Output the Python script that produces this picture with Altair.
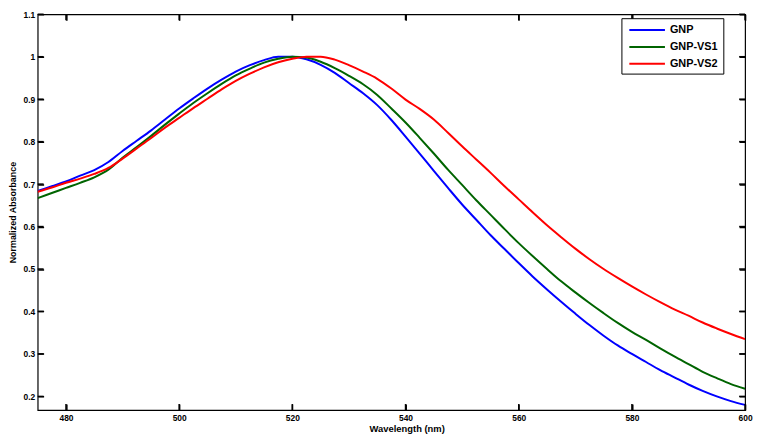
import altair as alt
import pandas as pd

wavelength = [475, 477.5, 480, 482.5, 485, 487.5, 490, 492.5, 495, 497.5, 500, 502.5, 505, 507.5,
              510, 512.5, 515, 517.5, 520, 522.5, 525, 527.5, 530, 532.5, 535, 537.5, 540, 542.5,
              545, 547.5, 550, 552.5, 555, 557.5, 560, 562.5, 565, 567.5, 570, 572.5, 575, 577.5,
              580, 582.5, 585, 587.5, 590, 592.5, 595, 597.5, 600]

gnp = [0.684, 0.695, 0.706, 0.720, 0.733, 0.752, 0.778, 0.802, 0.826, 0.852, 0.878, 0.902, 0.925, 0.946,
       0.965, 0.980, 0.992, 1.000, 1.000, 0.994, 0.981, 0.962, 0.938, 0.914, 0.886, 0.851, 0.812, 0.772,
       0.731, 0.691, 0.652, 0.616, 0.580, 0.547, 0.514, 0.482, 0.452, 0.423, 0.395, 0.368, 0.343, 0.320,
       0.300, 0.281, 0.262, 0.245, 0.228, 0.213, 0.200, 0.189, 0.180]

gnp_vs1 = [0.667, 0.679, 0.691, 0.703, 0.716, 0.734, 0.762, 0.787, 0.813, 0.840, 0.866, 0.891, 0.914, 0.936,
           0.956, 0.972, 0.986, 0.995, 1.000, 0.998, 0.988, 0.973, 0.955, 0.935, 0.910, 0.878, 0.845, 0.809,
           0.772, 0.734, 0.698, 0.662, 0.628, 0.594, 0.561, 0.530, 0.500, 0.471, 0.445, 0.420, 0.396, 0.373,
           0.352, 0.333, 0.313, 0.294, 0.276, 0.258, 0.243, 0.229, 0.218]

gnp_vs2 = [0.682, 0.692, 0.703, 0.713, 0.724, 0.738, 0.760, 0.784, 0.808, 0.833, 0.856, 0.879, 0.901, 0.923,
           0.943, 0.960, 0.975, 0.987, 0.995, 1.000, 1.000, 0.993, 0.980, 0.965, 0.948, 0.925, 0.899, 0.877,
           0.852, 0.821, 0.789, 0.758, 0.727, 0.695, 0.664, 0.633, 0.603, 0.575, 0.548, 0.523, 0.500, 0.479,
           0.459, 0.440, 0.422, 0.405, 0.390, 0.374, 0.360, 0.347, 0.335]

series_names = ["GNP", "GNP-VS1", "GNP-VS2"]
series_colors = ["#0000ff", "#006400", "#ff0000"]
x_ticks = [480, 500, 520, 540, 560, 580, 600]
y_ticks = [0.2, 0.3, 0.4, 0.5, 0.6, 0.7, 0.8, 0.9, 1.0, 1.1]

FONT = "Liberation Sans"
W, H = 715, 400
X_DOM = [475, 600]
Y_DOM = [0.168, 1.1]
TICK = 6

rows = []
for name, vals in zip(series_names, [gnp, gnp_vs1, gnp_vs2]):
    for w, v in zip(wavelength, vals):
        rows.append({"wavelength": w, "absorbance": v, "series": name})
df = pd.DataFrame(rows)

xs = alt.Scale(domain=X_DOM, nice=False, zero=False)
ys = alt.Scale(domain=Y_DOM, nice=False, zero=False)

# inward ticks at both ends of each axis, drawn as dashed grid lines (dash, long gap, dash)
x_grid = dict(grid=True, gridColor="black", gridOpacity=1, gridWidth=1.5,
              gridDash=[TICK, H - 2 * TICK, TICK, 3000])
y_grid = dict(grid=True, gridColor="black", gridOpacity=1, gridWidth=1.5,
              gridDash=[TICK, W - 2 * TICK, TICK, 3000])

lines = alt.Chart(df).mark_line(strokeWidth=2, clip=True, interpolate="monotone").encode(
    x=alt.X("wavelength:Q", scale=xs,
            axis=alt.Axis(values=x_ticks, format="d", ticks=False, domain=False, **x_grid,
                          labelFont=FONT, labelFontSize=8.5, labelFontWeight="bold", labelColor="black",
                          labelPadding=4, labelFlush=False,
                          title="Wavelength (nm)", titleFont=FONT, titleFontSize=9.5,
                          titleFontWeight="bold", titleColor="black",
                          titleX=373, titleY=19, titleBaseline="middle", titleAlign="center")),
    y=alt.Y("absorbance:Q", scale=ys,
            axis=alt.Axis(values=y_ticks, format="~g", ticks=False, domain=False, **y_grid,
                          labelFont=FONT, labelFontSize=8.5, labelFontWeight="bold", labelColor="black",
                          labelPadding=3, labelFlush=False,
                          title="Normalized Absorbance", titleFont=FONT, titleFontSize=9,
                          titleFontWeight="bold", titleColor="black",
                          titleX=-25, titleY=H / 2, titleAngle=-90, titleBaseline="middle",
                          titleAlign="center")),
    color=alt.Color("series:N",
                    scale=alt.Scale(domain=series_names, range=series_colors),
                    legend=alt.Legend(title=None, orient="none", legendX=590, legendY=4,
                                      symbolType="M-0.667,0H5.333", symbolSize=144, symbolStrokeWidth=2,
                                      labelFont=FONT, labelFontSize=11, labelFontWeight="bold",
                                      labelColor="black", strokeColor="black", fillColor="white",
                                      padding=5, rowPadding=5, labelOffset=30)),
    order=alt.Order("series:N"),
)

xt = pd.DataFrame({"t": x_ticks})
yt = pd.DataFrame({"t": y_ticks})

tick_mark = dict(filled=False, stroke="black", strokeWidth=1.5, opacity=1, size=(TICK) ** 2)
bottom_ticks = alt.Chart(xt).mark_point(shape="M0,0V-2", **tick_mark).encode(
    x=alt.X("t:Q", scale=xs), y=alt.value(H))
top_ticks = alt.Chart(xt).mark_point(shape="M0,0V2", **tick_mark).encode(
    x=alt.X("t:Q", scale=xs), y=alt.value(0))
left_ticks = alt.Chart(yt).mark_point(shape="M0,0H2", **tick_mark).encode(
    y=alt.Y("t:Q", scale=ys), x=alt.value(0))
right_ticks = alt.Chart(yt).mark_point(shape="M0,0H-2", **tick_mark).encode(
    y=alt.Y("t:Q", scale=ys), x=alt.value(W))

chart = alt.layer(lines, bottom_ticks, top_ticks, left_ticks, right_ticks).properties(
    width=W, height=H,
    autosize=alt.AutoSizeParams(type="none"),
    padding={"left": 30, "top": 4, "right": 8, "bottom": 26},
    background="white",
).configure_view(stroke="black", strokeWidth=1.2)

chart.save("out.html", embed_options={"renderer": "svg", "actions": False})
